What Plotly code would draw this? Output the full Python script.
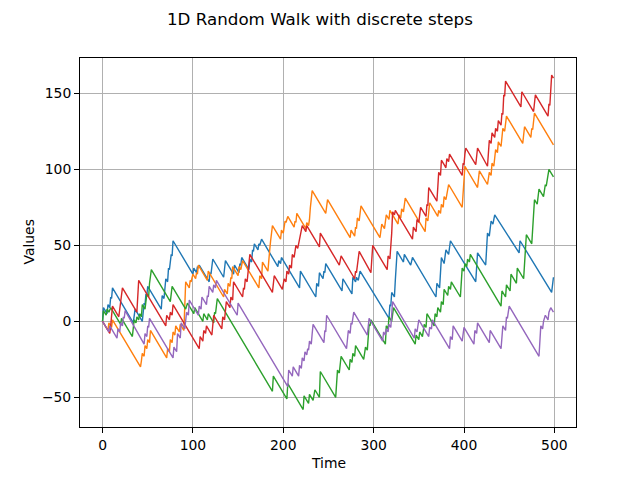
import plotly.graph_objects as go

# ---- data: vertices of each walk (time step, value) ----
blue_t = [0,1,5,6,8,9,10,11,34,36,44,46,47,48,49,50,65,66,68,70,72,73,74,76,77,78,100,101,104,105,106,107,118,119,120,121,122,134,136,145,146,151,152,153,154,162,163,165,166,167,168,172,173,174,176,194,195,197,198,205,218,219,236,237,239,240,244,245,246,247,265,266,276,277,280,281,283,285,317,318,319,320,323,324,325,326,333,334,341,343,369,370,373,374,375,378,380,383,385,413,414,415,424,426,428,430,432,434,461,462,497,499]
blue_v = [0,9,5,11,9,16,15,22,-1,8,0,12,11,18,17,23,8,17,15,28,26,35,34,44,43,53,31,35,32,36,35,37,26,32,31,36,41,29,40,31,37,32,38,37,42,34,41,39,47,46,51,47,51,50,54,36,40,38,42,35,22,33,16,25,23,32,28,33,32,38,20,28,18,29,26,29,27,33,2,11,10,19,16,27,36,46,39,44,37,42,16,25,22,32,42,38,47,44,53,26,36,45,37,58,56,66,64,70,45,53,19,29]

orange_t = [0,6,7,10,11,42,43,44,46,47,49,50,52,53,71,72,74,75,77,78,80,81,85,86,90,91,92,96,97,98,100,103,104,105,106,116,117,134,135,138,139,141,142,143,144,150,151,153,155,173,174,176,177,183,184,185,186,187,188,197,198,200,202,203,205,212,213,214,215,225,226,228,229,230,231,232,247,248,249,274,275,279,280,281,282,284,286,307,308,309,312,313,314,317,318,327,328,330,331,333,335,357,358,360,361,362,371,372,374,375,377,378,380,382,383,398,399,401,415,416,417,426,427,428,430,431,433,434,435,437,438,441,442,443,445,446,447,465,466,467,474,475,476,478,499]
orange_v = [0,-6,-1,-4,1,-30,-26,-21,-23,-16,-18,-12,-14,-6,-24,-18,-20,-12,-14,-7,-9,-3,-7,-2,-6,8,26,22,27,26,31,28,32,31,37,27,33,16,21,18,25,23,29,28,36,30,36,34,40,22,30,28,39,33,44,47,53,57,63,54,60,58,66,65,69,62,66,65,71,61,65,63,67,75,80,86,71,76,80,55,60,56,62,61,68,66,76,55,60,64,61,66,70,67,73,64,70,68,74,72,81,59,68,66,72,78,69,73,71,77,75,82,80,87,90,75,84,102,88,93,99,90,94,98,96,104,102,110,113,111,118,115,123,127,125,133,135,117,123,128,121,127,126,137,116]

green_t = [0,1,4,5,7,9,20,21,33,35,37,38,40,41,43,44,47,48,49,51,52,54,75,77,92,94,101,102,111,112,116,117,123,124,125,126,127,188,189,204,205,222,223,228,229,233,235,240,241,258,259,260,262,264,273,274,276,277,279,280,289,291,293,294,295,296,297,313,314,316,317,320,322,346,347,350,351,354,356,358,359,367,368,370,371,374,375,377,378,382,383,385,386,396,397,398,400,401,403,404,406,407,441,442,446,447,451,452,458,459,466,467,468,469,475,476,477,478,481,482,483,488,489,490,491,492,493,494,499]
green_v = [0,7,4,8,6,9,-2,2,-10,1,-1,3,1,5,3,11,8,12,18,16,25,34,13,23,8,12,5,9,0,5,1,5,-1,6,5,10,15,-46,-36,-51,-41,-58,-49,-54,-48,-52,-45,-50,-33,-50,-42,-32,-34,-23,-32,-25,-27,-21,-23,-16,-25,-17,-19,-10,-2,-3,1,-15,-3,-5,3,0,9,-15,-9,-12,-7,-10,-2,-4,5,-3,5,3,9,6,13,11,21,17,23,21,26,16,27,35,33,38,36,41,39,44,10,20,16,24,20,31,25,35,28,40,47,57,51,60,70,80,77,84,87,82,86,90,89,92,96,100,95]

red_t = [0,8,9,10,11,18,20,22,38,39,40,70,71,74,75,77,78,107,108,111,112,114,115,121,123,132,133,135,137,141,142,144,145,155,156,157,158,160,161,163,188,190,199,200,201,203,204,206,207,209,210,212,214,216,219,221,225,226,240,241,256,262,263,264,279,280,281,283,284,297,298,299,315,316,318,319,320,321,323,324,343,344,347,348,350,352,358,359,360,361,370,371,372,374,375,378,380,381,383,384,398,399,400,401,402,413,414,415,426,427,428,430,431,434,435,437,438,441,442,443,444,445,446,463,464,477,479,493,494,495,497,499]
red_v = [0,-8,-3,2,10,3,12,22,6,15,27,-3,4,1,6,4,11,-18,-10,-13,-6,-8,-3,-9,4,-5,3,1,13,9,16,14,26,16,22,21,28,26,34,44,19,30,21,25,28,26,33,31,37,35,44,42,50,48,58,63,59,63,49,58,43,37,40,43,28,33,32,42,46,32,42,50,34,43,41,48,58,72,70,73,54,62,59,67,65,75,69,77,76,88,79,88,98,96,106,103,101,107,105,110,96,104,103,110,114,103,108,114,102,110,119,117,124,121,127,125,132,129,137,136,149,148,158,141,151,138,149,135,143,142,162,160]

purple_t = [0,7,8,16,17,19,20,22,23,24,25,46,47,49,50,51,52,78,79,82,83,86,87,91,93,95,96,106,107,109,110,115,116,117,118,122,123,125,126,149,150,205,206,210,211,217,218,220,221,223,224,226,227,228,229,231,232,233,245,246,247,248,270,271,272,274,275,276,277,278,293,294,295,310,311,313,314,316,317,319,320,321,345,346,348,350,361,362,364,365,384,385,387,388,398,399,400,411,412,414,415,428,429,441,442,443,446,447,448,450,483,484,485,487,488,490,493,494,496,499]
purple_v = [0,-7,-3,-11,-5,-7,-1,-3,3,2,7,-15,-8,-10,-3,-4,2,-24,-17,-20,-8,-11,-1,-5,6,4,14,4,10,8,16,11,17,16,23,19,24,22,27,4,12,-43,-32,-36,-30,-36,-29,-31,-24,-26,-20,-22,-18,-19,-13,-15,-8,-2,-14,-6,-7,4,-18,-11,-6,-8,-1,-2,4,6,-9,-3,2,-13,-7,-9,-5,-7,-2,-4,3,13,-11,-5,-7,1,-10,-4,-5,1,-18,-10,-12,-3,-13,-7,-4,-15,-6,-8,-1,-14,-6,-18,-10,-3,-6,3,2,10,-23,-12,-3,-5,0,4,1,6,9,6]

x_ticks = [0, 100, 200, 300, 400, 500]
y_ticks = [-50, 0, 50, 100, 150]

series = [
    (blue_t, blue_v, "#1f77b4"),
    (orange_t, orange_v, "#ff7f0e"),
    (green_t, green_v, "#2ca02c"),
    (red_t, red_v, "#d62728"),
    (purple_t, purple_v, "#9467bd"),
]

FONT = "DejaVu Sans"
fig = go.Figure()
for t, v, c in series:
    fig.add_trace(go.Scatter(x=t, y=v, mode="lines",
                             line=dict(color=c, width=1.4), showlegend=False,
                             hoverinfo="skip"))

axis_common = dict(
    showgrid=True, gridcolor="#b0b0b0", gridwidth=1,
    showline=True, linecolor="black", linewidth=1, mirror=True,
    ticks="outside", ticklen=5, tickwidth=1, tickcolor="black",
    zeroline=False, tickfont=dict(family=FONT, size=13.9, color="black"),
)

# the page body adds an 8px offset; the figure is sized so the plot area
# lands where it sits in the reference (x 80..576, y 58..427)
fig.update_layout(
    width=632, height=472,
    margin=dict(l=72, r=64, t=50, b=53, autoexpand=False),
    paper_bgcolor="white", plot_bgcolor="white",
    xaxis=dict(range=[-24.95, 523.95], tickvals=x_ticks, **axis_common),
    yaxis=dict(range=[-69.5, 173.2], tickvals=y_ticks, **axis_common),
    annotations=[
        dict(text="1D Random Walk with discrete steps", x=(320 - 80) / 496, y=(427 - 19.5) / 369,
             xref="paper", yref="paper", showarrow=False, xanchor="center", yanchor="middle",
             font=dict(family=FONT, size=16.7, color="black")),
        dict(text="Time", x=0.5, y=(427 - 463) / 369, xref="paper", yref="paper",
             showarrow=False, xanchor="center", yanchor="middle",
             font=dict(family=FONT, size=13.9, color="black")),
        dict(text="Values", x=(28 - 80) / 496, y=0.5, xref="paper", yref="paper",
             showarrow=False, xanchor="center", yanchor="middle", textangle=-90,
             font=dict(family=FONT, size=13.9, color="black")),
    ],
)

fig.write_html("out.html")
